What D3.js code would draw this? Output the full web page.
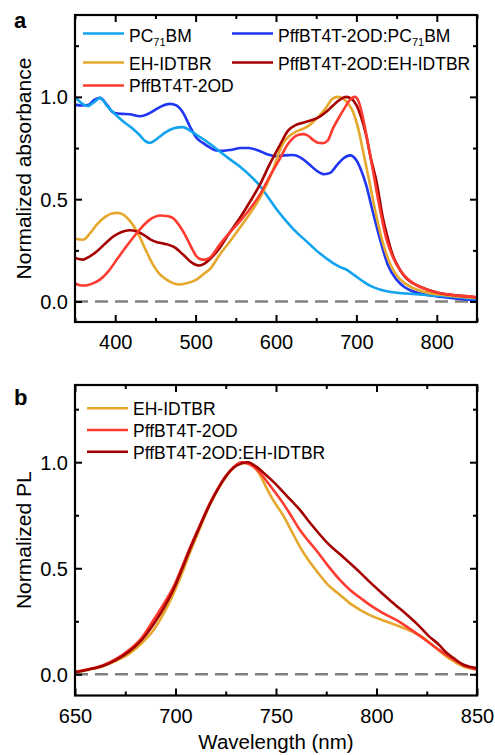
<!DOCTYPE html>
<html>
<head>
<meta charset="utf-8">
<script src="https://cdn.jsdelivr.net/npm/d3@7"></script>
<style>
  html, body { margin: 0; padding: 0; background: #fff; }
  svg { display: block; font-family: "Liberation Sans", Arial, sans-serif; }
</style>
</head>
<body>
<svg id="chart" width="495" height="755"></svg>
<script>
// ---------- Panel a: absorbance data [wavelength nm, normalized absorbance] ----------
const absPC71BM = [[350,1.0],[358,0.97],[366,0.955],[374,0.975],[381,0.995],[390,0.955],[400,0.915],[410,0.88],[420,0.85],[430,0.815],[437,0.785],[443,0.775],[452,0.795],[462,0.825],[472,0.845],[484,0.852],[495,0.83],[505,0.805],[518,0.77],[530,0.733],[542,0.697],[555,0.66],[571,0.603],[580,0.565],[588,0.522],[600,0.455],[613,0.392],[625,0.34],[638,0.294],[650,0.25],[662,0.213],[672,0.185],[680,0.168],[688,0.155],[697,0.13],[708,0.099],[718,0.075],[729,0.059],[745,0.045],[770,0.037],[790,0.031],[812,0.026],[830,0.02],[849,0.012]];
const absBlendPC = [[350,0.962],[358,0.958],[366,0.96],[374,0.985],[381,0.995],[390,0.96],[398,0.922],[408,0.917],[418,0.915],[431,0.905],[440,0.915],[447,0.93],[458,0.955],[468,0.966],[476,0.958],[484,0.925],[493,0.855],[501,0.8],[509,0.775],[518,0.752],[526,0.738],[534,0.736],[545,0.742],[556,0.75],[566,0.75],[578,0.738],[590,0.718],[600,0.71],[610,0.714],[621,0.716],[632,0.7],[642,0.668],[651,0.638],[660,0.622],[668,0.63],[676,0.668],[684,0.7],[692,0.714],[700,0.69],[706,0.64],[712,0.571],[720,0.445],[729,0.31],[739,0.18],[750,0.107],[760,0.07],[770,0.05],[785,0.035],[799,0.026],[820,0.016],[849,0.005]];
const absEH = [[350,0.307],[360,0.302],[368,0.33],[377,0.376],[388,0.415],[396,0.43],[402,0.433],[410,0.425],[418,0.395],[427,0.343],[437,0.26],[447,0.18],[455,0.135],[464,0.107],[472,0.09],[480,0.083],[490,0.09],[501,0.107],[510,0.135],[518,0.16],[530,0.229],[542,0.29],[555,0.36],[568,0.432],[580,0.506],[590,0.585],[596,0.64],[603,0.72],[609,0.774],[617,0.81],[625,0.83],[634,0.845],[642,0.863],[652,0.9],[662,0.945],[670,0.99],[677,1.0],[684,0.99],[690,0.965],[696,0.925],[702,0.85],[708,0.74],[712,0.665],[717,0.57],[722,0.47],[727,0.38],[732,0.30],[737,0.235],[743,0.175],[750,0.128],[760,0.09],[770,0.066],[786,0.046],[803,0.034],[825,0.025],[849,0.018]];
const absPff = [[350,0.088],[356,0.08],[362,0.078],[370,0.085],[381,0.107],[392,0.15],[402,0.205],[414,0.27],[427,0.335],[436,0.375],[443,0.4],[450,0.415],[456,0.42],[464,0.418],[472,0.408],[480,0.37],[489,0.31],[496,0.255],[501,0.221],[507,0.206],[512,0.205],[518,0.215],[530,0.278],[542,0.335],[555,0.392],[568,0.455],[580,0.522],[592,0.61],[605,0.70],[614,0.765],[621,0.798],[628,0.815],[634,0.818],[640,0.81],[646,0.79],[652,0.776],[658,0.774],[664,0.785],[671,0.847],[679,0.904],[686,0.95],[692,0.985],[698,1.0],[703,0.975],[708,0.9],[714,0.78],[720,0.652],[729,0.457],[737,0.31],[744,0.23],[750,0.18],[760,0.125],[770,0.091],[786,0.06],[803,0.042],[825,0.03],[849,0.021]];
const absBlendEH = [[350,0.213],[360,0.205],[368,0.22],[377,0.245],[388,0.285],[398,0.319],[408,0.34],[418,0.348],[427,0.342],[435,0.327],[443,0.305],[451,0.291],[460,0.283],[468,0.275],[475,0.262],[480,0.245],[487,0.22],[493,0.197],[500,0.18],[505,0.176],[511,0.185],[518,0.208],[530,0.262],[542,0.335],[555,0.408],[568,0.49],[580,0.571],[592,0.67],[605,0.766],[615,0.835],[625,0.863],[635,0.875],[646,0.888],[655,0.905],[663,0.928],[671,0.958],[679,0.985],[687,1.0],[694,0.99],[700,0.96],[706,0.9],[712,0.815],[718,0.7],[725,0.587],[733,0.408],[739,0.31],[745,0.229],[752,0.17],[758,0.132],[766,0.1],[775,0.08],[789,0.058],[803,0.042],[825,0.03],[849,0.021]];

// ---------- Panel b: PL data [wavelength nm, normalized PL] ----------
const plEH = [[650,0.01],[657,0.022],[664,0.038],[670,0.062],[677,0.097],[683,0.145],[689,0.208],[694,0.285],[699,0.38],[703,0.47],[707,0.569],[712,0.685],[717,0.797],[721,0.87],[725,0.93],[729,0.975],[732,0.997],[735,0.995],[739,0.978],[742,0.94],[745,0.884],[749,0.815],[754,0.742],[758,0.67],[762,0.60],[766,0.54],[770,0.49],[776,0.42],[782,0.373],[787,0.333],[792,0.303],[797,0.278],[803,0.255],[810,0.231],[818,0.2],[823,0.175],[827,0.145],[831,0.113],[835,0.082],[839,0.058],[843,0.038],[847,0.027],[850,0.022]];
const plPff = [[650,0.012],[657,0.025],[664,0.043],[670,0.07],[677,0.116],[683,0.17],[689,0.255],[694,0.33],[699,0.412],[703,0.5],[707,0.593],[712,0.7],[717,0.805],[721,0.875],[725,0.935],[729,0.978],[733,1.0],[737,0.99],[741,0.96],[745,0.915],[749,0.865],[754,0.8],[758,0.74],[762,0.679],[766,0.63],[770,0.585],[776,0.51],[782,0.443],[787,0.396],[792,0.36],[797,0.325],[803,0.29],[810,0.255],[815,0.225],[820,0.192],[826,0.15],[831,0.115],[835,0.09],[839,0.065],[843,0.044],[847,0.03],[850,0.022]];
const plBlendEH = [[650,0.01],[657,0.023],[664,0.04],[670,0.066],[677,0.108],[683,0.16],[689,0.235],[694,0.31],[699,0.4],[703,0.49],[707,0.585],[712,0.695],[717,0.8],[721,0.872],[725,0.932],[729,0.975],[733,0.995],[736,1.0],[740,0.98],[745,0.94],[749,0.905],[754,0.855],[758,0.815],[762,0.774],[766,0.725],[770,0.679],[776,0.615],[782,0.565],[787,0.522],[792,0.478],[797,0.432],[803,0.38],[810,0.322],[815,0.282],[820,0.239],[826,0.18],[831,0.14],[835,0.1],[839,0.072],[843,0.046],[847,0.034],[850,0.028]];

// ---------- ticks ----------
const aXMajor = [400, 500, 600, 700, 800];
const aXMinor = [350, 450, 550, 650, 750, 850];
const bXMajor = [650, 700, 750, 800, 850];
const bXMinor = [675, 725, 775, 825];
const yMajor = [0.0, 0.5, 1.0];
const yMinor = [0.25, 0.75, 1.25];

// ---------- colours ----------
const C = {
  pc: "#12a3ef",
  blendPC: "#1f36f2",
  eh: "#e6a82c",
  pff: "#ff3b30",
  blendEH: "#a50000"
};

const svg = d3.select("#chart");

function panel(cfg) {
  const g = svg.append("g");
  const x = d3.scaleLinear().domain(cfg.xDomain).range([cfg.left, cfg.right]);
  const y = d3.scaleLinear().domain(cfg.yDomain).range([cfg.bottom, cfg.top]);

  // zero dashed line
  g.append("line")
    .attr("x1", cfg.left).attr("x2", cfg.right)
    .attr("y1", y(0)).attr("y2", y(0))
    .attr("stroke", "#808080").attr("stroke-width", 2.5)
    .attr("stroke-dasharray", "13,7");

  const line = d3.line().x(d => x(d[0])).y(d => y(d[1])).curve(d3.curveMonotoneX);
  cfg.series.forEach(s => {
    g.append("path").datum(s.data)
      .attr("d", line)
      .attr("fill", "none")
      .attr("stroke", s.color)
      .attr("stroke-width", 2.6)
      .attr("stroke-linejoin", "round");
  });

  // axes (inward ticks, mirrored)
  const tk = 2;
  const addX = (vals, len, labels) => {
    const ab = d3.axisTop(x).tickValues(vals).tickSize(len).tickFormat(labels ? d3.format("d") : "");
    const at = d3.axisBottom(x).tickValues(vals).tickSize(len).tickFormat("");
    const gb = g.append("g").attr("transform", `translate(0,${cfg.bottom})`).call(ab);
    const gt = g.append("g").attr("transform", `translate(0,${cfg.top})`).call(at);
    [gb, gt].forEach(a => {
      a.select(".domain").remove();
      a.selectAll("line").attr("stroke", "#000").attr("stroke-width", tk);
    });
    if (labels) {
      gb.selectAll("text")
        .attr("y", 27).attr("dy", 0)
        .attr("fill", "#000")
        .attr("font-size", 20)
        .attr("font-family", "Liberation Sans, Arial, sans-serif");
    }
  };
  const addY = (vals, len, labels) => {
    const al = d3.axisRight(y).tickValues(vals).tickSize(len).tickFormat(labels ? d3.format(".1f") : "");
    const ar = d3.axisLeft(y).tickValues(vals).tickSize(len).tickFormat("");
    const gl = g.append("g").attr("transform", `translate(${cfg.left},0)`).call(al);
    const gr = g.append("g").attr("transform", `translate(${cfg.right},0)`).call(ar);
    [gl, gr].forEach(a => {
      a.select(".domain").remove();
      a.selectAll("line").attr("stroke", "#000").attr("stroke-width", tk);
    });
    if (labels) {
      gl.selectAll("text")
        .attr("x", -7).attr("dy", "0.35em")
        .attr("text-anchor", "end")
        .attr("fill", "#000")
        .attr("font-size", 20)
        .attr("font-family", "Liberation Sans, Arial, sans-serif");
    }
  };
  addX(cfg.xMajor, 7, true);
  addX(cfg.xMinor, 4, false);
  addY(yMajor, 7, true);
  addY(yMinor, 4, false);

  // frame
  g.append("rect")
    .attr("x", cfg.left).attr("y", cfg.top)
    .attr("width", cfg.right - cfg.left).attr("height", cfg.bottom - cfg.top)
    .attr("fill", "none").attr("stroke", "#000").attr("stroke-width", 2.2);

  // y title
  g.append("text")
    .attr("transform", `translate(30.5,${(cfg.top + cfg.bottom) / 2}) rotate(-90)`)
    .attr("text-anchor", "middle")
    .attr("font-size", 21)
    .text(cfg.yTitle);

  // panel letter
  g.append("text")
    .attr("x", 14).attr("y", cfg.letterY)
    .attr("font-size", 22).attr("font-weight", "bold")
    .text(cfg.letter);

  // legend
  cfg.legend.forEach(L => {
    g.append("line")
      .attr("x1", L.x).attr("x2", L.x + 41)
      .attr("y1", L.ly).attr("y2", L.ly)
      .attr("stroke", L.color).attr("stroke-width", 2.6);
    const t = g.append("text")
      .attr("x", L.x + 46).attr("y", L.ty)
      .attr("font-size", 17.5);
    L.parts.forEach(p => {
      const ts = t.append("tspan").text(p.t);
      if (p.sub) ts.attr("font-size", 11).attr("dy", 4);
      if (p.after) ts.attr("dy", -4);
    });
  });

  return { x, y };
}

// Panel a
panel({
  left: 75, right: 477, top: 15, bottom: 322,
  xDomain: [350, 850], yDomain: [-0.1, 1.4],
  xMajor: aXMajor, xMinor: aXMinor,
  yTitle: "Normalized absorbance",
  letter: "a", letterY: 28,
  series: [
    { data: absBlendPC, color: C.blendPC },
    { data: absPC71BM, color: C.pc },
    { data: absEH, color: C.eh },
    { data: absBlendEH, color: C.blendEH },
    { data: absPff, color: C.pff }
  ],
  legend: [
    { x: 83, ly: 33.5, ty: 41.5, color: C.pc, parts: [{ t: "PC" }, { t: "71", sub: true }, { t: "BM", after: true }] },
    { x: 83, ly: 62.5, ty: 69.5, color: C.eh, parts: [{ t: "EH-IDTBR" }] },
    { x: 83, ly: 85.5, ty: 91.5, color: C.pff, parts: [{ t: "PffBT4T-2OD" }] },
    { x: 232, ly: 33.5, ty: 41.5, color: C.blendPC, parts: [{ t: "PffBT4T-2OD:PC" }, { t: "71", sub: true }, { t: "BM", after: true }] },
    { x: 232, ly: 62.5, ty: 69.5, color: C.blendEH, parts: [{ t: "PffBT4T-2OD:EH-IDTBR" }] }
  ]
});

// Panel b
panel({
  left: 75, right: 477, top: 385, bottom: 695.5,
  xDomain: [650, 850], yDomain: [-0.1, 1.364],
  xMajor: bXMajor, xMinor: bXMinor,
  yTitle: "Normalized PL",
  letter: "b", letterY: 405,
  series: [
    { data: plEH, color: C.eh },
    { data: plPff, color: C.pff },
    { data: plBlendEH, color: C.blendEH }
  ],
  legend: [
    { x: 87, ly: 408.3, ty: 415, color: C.eh, parts: [{ t: "EH-IDTBR" }] },
    { x: 87, ly: 430, ty: 436.7, color: C.pff, parts: [{ t: "PffBT4T-2OD" }] },
    { x: 87, ly: 451.7, ty: 459, color: C.blendEH, parts: [{ t: "PffBT4T-2OD:EH-IDTBR" }] }
  ]
});

// x axis title
svg.append("text")
  .attr("x", 276).attr("y", 749)
  .attr("text-anchor", "middle")
  .attr("font-size", 20.5)
  .text("Wavelength (nm)");
</script>
</body>
</html>
